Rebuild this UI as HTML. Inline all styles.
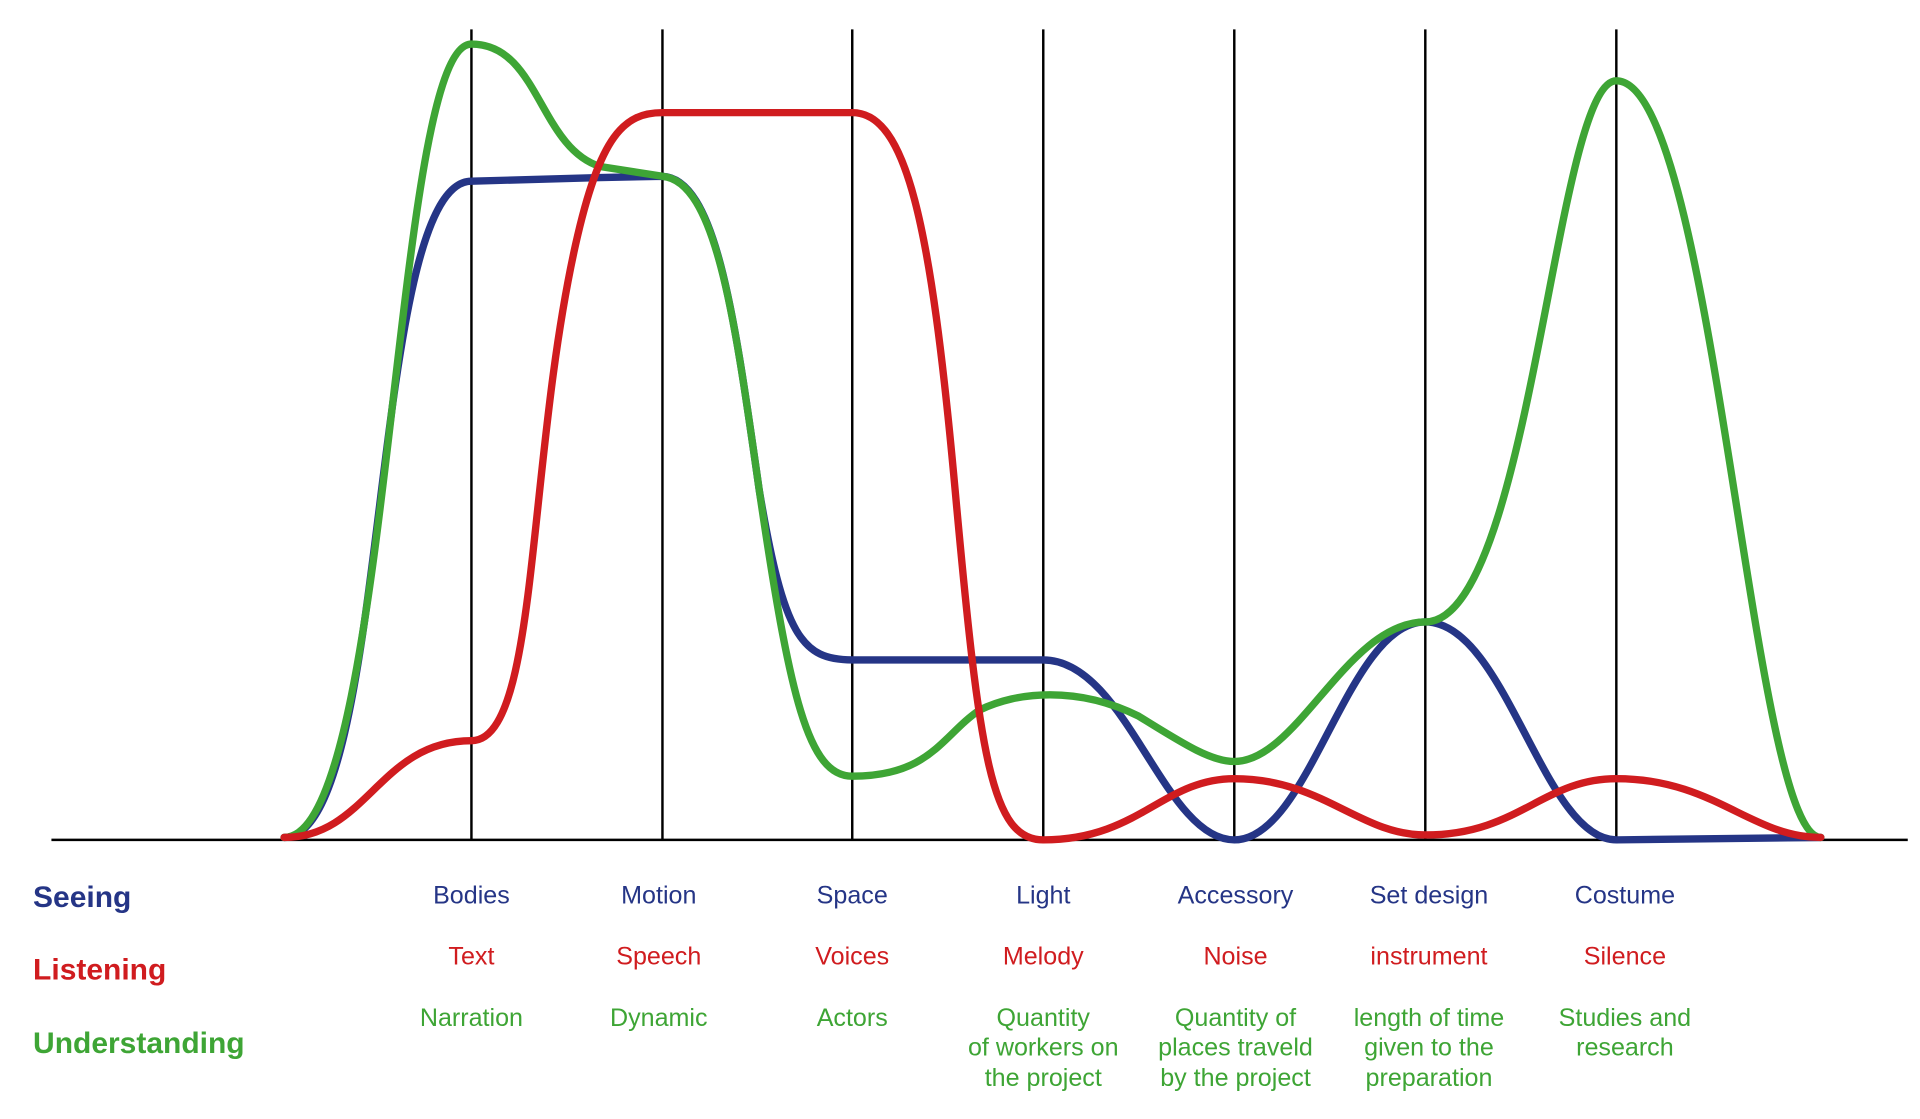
<!DOCTYPE html>
<html><head><meta charset="utf-8"><style>
html,body{margin:0;padding:0;background:#fff;}
svg{display:block;}
text{font-family:"Liberation Sans",Arial,sans-serif;}
</style></head><body>
<svg width="1920" height="1119" viewBox="0 0 1568 914" preserveAspectRatio="none" xmlns="http://www.w3.org/2000/svg">
<g stroke="#000" stroke-width="2">
<line x1="42" y1="686" x2="1558" y2="686"/>
<line x1="385" y1="24" x2="385" y2="686"/>
<line x1="541" y1="24" x2="541" y2="686"/>
<line x1="696" y1="24" x2="696" y2="686"/>
<line x1="852" y1="24" x2="852" y2="686"/>
<line x1="1008" y1="24" x2="1008" y2="686"/>
<line x1="1164" y1="24" x2="1164" y2="686"/>
<line x1="1320" y1="24" x2="1320" y2="686"/>
</g>
<g fill="none" stroke-width="6" stroke-linejoin="round" stroke-linecap="round">
<path stroke="#253586" d="M232,684 C320,684 300,148 385,148 L490,145 L541,144 C585,146 600,260 620,400 C640,520 655,539 696,539 L852,539 C920,539 950,686 1008,686 C1070,686 1100,508 1164,508 C1230,508 1260,686 1320,686 L1487,684"/>
<path stroke="#3ea535" d="M232,684 C320,684 320,36 385,36 C440,36 440,120 490,136 L541,144 C585,148 600,260 620,400 C645,570 660,634 696,634 C760,634 770,600 800,580 C830,565 880,560 930,585 C970,610 990,622 1008,622 C1060,622 1100,508 1164,508 C1250,508 1270,66 1320,66 C1400,66 1430,684 1487,684"/>
<path stroke="#d01c1f" d="M232,684 C300,684 310,605 385,605 C440,605 430,380 470,200 C490,110 510,92 541,92 L696,92 C740,92 760,180 780,400 C800,620 810,686 852,686 C930,686 950,636 1008,636 C1080,636 1110,682 1164,682 C1240,682 1260,636 1320,636 C1400,636 1430,684 1487,684"/>
</g>
<g font-size="24.5" font-weight="bold">
<text x="27" y="741" fill="#253586">Seeing</text>
<text x="27" y="800" fill="#d01c1f">Listening</text>
<text x="27" y="860" fill="#3ea535">Understanding</text>
</g>
<g font-size="20.5" text-anchor="middle">
<g fill="#253586">
<text x="385" y="738">Bodies</text><text x="538" y="738">Motion</text><text x="696" y="738">Space</text><text x="852" y="738">Light</text><text x="1009" y="738">Accessory</text><text x="1167" y="738">Set design</text><text x="1327" y="738">Costume</text>
</g>
<g fill="#d01c1f">
<text x="385" y="788">Text</text><text x="538" y="788">Speech</text><text x="696" y="788">Voices</text><text x="852" y="788">Melody</text><text x="1009" y="788">Noise</text><text x="1167" y="788">instrument</text><text x="1327" y="788">Silence</text>
</g>
<g fill="#3ea535">
<text x="385" y="838">Narration</text><text x="538" y="838">Dynamic</text><text x="696" y="838">Actors</text>
<text x="852" y="838">Quantity</text><text x="852" y="862">of workers on</text><text x="852" y="887">the project</text>
<text x="1009" y="838">Quantity of</text><text x="1009" y="862">places traveld</text><text x="1009" y="887">by the project</text>
<text x="1167" y="838">length of time</text><text x="1167" y="862">given to the</text><text x="1167" y="887">preparation</text>
<text x="1327" y="838">Studies and</text><text x="1327" y="862">research</text>
</g>
</g>
</svg>
</body></html>
